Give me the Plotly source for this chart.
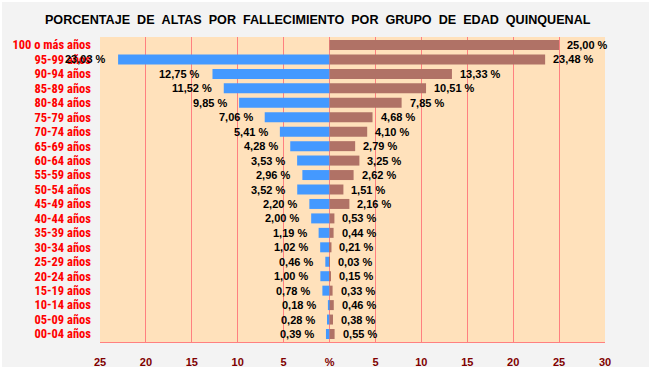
import plotly.graph_objects as go

grupos = ["100 o más años", "95-99 años", "90-94 años", "85-89 años", "80-84 años",
          "75-79 años", "70-74 años", "65-69 años", "60-64 años", "55-59 años",
          "50-54 años", "45-49 años", "40-44 años", "35-39 años", "30-34 años",
          "25-29 años", "20-24 años", "15-19 años", "10-14 años", "05-09 años",
          "00-04 años"]
izquierda = [0, 23.03, 12.75, 11.52, 9.85, 7.06, 5.41, 4.28, 3.53, 2.96,
             3.52, 2.20, 2.00, 1.19, 1.02, 0.46, 1.00, 0.78, 0.18, 0.28, 0.39]
derecha = [25.00, 23.48, 13.33, 10.51, 7.85, 4.68, 4.10, 2.79, 3.25, 2.62,
           1.51, 2.16, 0.53, 0.44, 0.21, 0.03, 0.15, 0.33, 0.46, 0.38, 0.55]
tick_vals = [-25, -20, -15, -10, -5, 0, 5, 10, 15, 20, 25, 30]
tick_text = ["25", "20", "15", "10", "5", "%", "5", "10", "15", "20", "25", "30"]

FONT = "Liberation Sans, Arial, sans-serif"
NARROW = "Liberation Sans Narrow, Arial Narrow, Roboto Condensed, Liberation Sans, sans-serif"
GRID = "#ff8080"


def fmt(v):
    return f"{v:.2f} %".replace(".", ",")


fig = go.Figure()
fig.add_trace(go.Bar(y=grupos, x=[-v for v in izquierda], orientation="h",
                     marker=dict(color="#4499ff", line=dict(width=0)), showlegend=False))
fig.add_trace(go.Bar(y=grupos, x=derecha, orientation="h",
                     marker=dict(color="#b07266", line=dict(width=0)), showlegend=False))

for g, v in zip(grupos, izquierda):
    if v > 0:
        fig.add_annotation(x=-v, y=g, text=fmt(v), showarrow=False, xanchor="right",
                           xshift=-10, font=dict(family=FONT, size=11, color="black", weight="bold"))
for g, v in zip(grupos, derecha):
    fig.add_annotation(x=v, y=g, text=fmt(v), showarrow=False, xanchor="left",
                       xshift=6, font=dict(family=FONT, size=11, color="black", weight="bold"))

titulo = "\u00a0\u00a0".join("PORCENTAJE DE ALTAS POR FALLECIMIENTO POR GRUPO DE EDAD QUINQUENAL".split(" "))

fig.update_layout(
    width=647, height=365,
    barmode="overlay", bargap=0.31,
    paper_bgcolor="#f3f3f3", plot_bgcolor="#ffe1bb",
    margin=dict(l=98, r=44, t=35, b=25),
    title=dict(text=titulo, x=0.488, xanchor="center", y=0.951, yanchor="middle",
               font=dict(family=FONT, size=12.6, color="black", weight="bold")),
    xaxis=dict(range=[-25, 30], tickvals=tick_vals, ticktext=tick_text,
               showgrid=True, gridcolor=GRID, gridwidth=1, zeroline=False,
               showline=True, linecolor=GRID, linewidth=1, mirror=False,
               ticklabelstandoff=10, automargin=False,
               tickfont=dict(family=FONT, size=11, color="#800000", weight="bold")),
    yaxis=dict(categoryorder="array", categoryarray=grupos[::-1],
               tickmode="array", tickvals=grupos, ticktext=grupos,
               showgrid=False, zeroline=False, ticklabelstandoff=8, automargin=False,
               tickfont=dict(family=NARROW, size=12.5, color="#ff0000", weight="bold")),
)

fig.write_html("out.html", post_script="document.body.style.margin='2px';document.body.style.background='#ffffff';")
